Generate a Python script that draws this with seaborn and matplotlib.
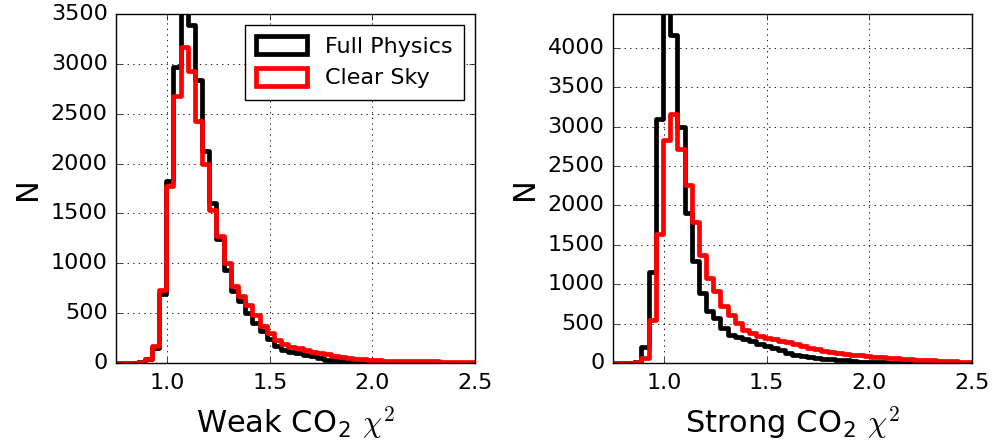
import numpy as np
import pandas as pd
import matplotlib
matplotlib.use("Agg")
import matplotlib.pyplot as plt
from matplotlib.patches import Patch
import seaborn as sns

# Histogram bins shared by both panels
bin_lo, bin_hi, n_bins = 0.75, 2.5, 50

# Weak CO2 band chi^2 counts per bin
weak_full = [2, 3, 5, 10, 40, 150, 690, 1830, 2970, 3650, 3390, 2840, 2130, 1600,
             1240, 930, 720, 620, 500, 400, 320, 240, 170, 135, 115, 100, 80, 66,
             50, 35, 28, 22, 18, 14, 12, 10, 9, 8, 7, 6, 6, 5, 5, 4, 4, 4, 3, 3, 3, 3]
weak_clear = [2, 3, 5, 10, 40, 166, 730, 1780, 2680, 3170, 2930, 2430, 2000, 1530,
              1270, 1000, 770, 670, 580, 480, 370, 300, 230, 190, 165, 150, 130, 115,
              100, 90, 75, 60, 50, 45, 38, 33, 28, 25, 22, 20, 20, 18, 17, 16, 16, 15,
              14, 14, 13, 12]

# Strong CO2 band chi^2 counts per bin
strong_full = [2, 3, 5, 10, 200, 1160, 3100, 4700, 4160, 2990, 1900, 1290, 890, 656,
               572, 446, 361, 330, 310, 276, 240, 210, 190, 160, 130, 105, 88, 76, 66,
               57, 50, 44, 35, 25, 16, 10, 8, 7, 6, 6, 5, 5, 5, 4, 4, 4, 4, 3, 3, 3]
strong_clear = [2, 3, 5, 10, 60, 550, 1640, 2830, 3160, 2720, 2260, 1790, 1375, 1080,
                910, 720, 615, 510, 425, 380, 340, 320, 300, 285, 270, 240, 215, 190,
                172, 155, 140, 128, 118, 108, 97, 86, 78, 72, 66, 60, 54, 49, 44, 38,
                33, 29, 26, 23, 19, 16]

labels = ["Full Physics", "Clear Sky"]
colors = ["black", "red"]

panels = [
    ("Weak CO$_\\mathregular{2}$ $\\chi^2$", weak_full, weak_clear, 3500, np.arange(0, 3501, 500)),
    ("Strong CO$_\\mathregular{2}$ $\\chi^2$", strong_full, strong_clear, 4430, np.arange(0, 4001, 500)),
]

plt.style.use("classic")
plt.rcParams.update({
    "figure.facecolor": "white",
    "savefig.facecolor": "white",
    "font.family": ["DejaVu Sans"],
    "mathtext.fontset": "cm",
    "font.size": 16,
    "xtick.labelsize": 16,
    "ytick.labelsize": 16,
    "xtick.major.pad": 7,
    "ytick.major.pad": 6,
    "axes.linewidth": 1.0,
})

edges = np.linspace(bin_lo, bin_hi, n_bins + 1)
centers = 0.5 * (edges[:-1] + edges[1:])

fig = plt.figure(figsize=(9.93, 4.42), dpi=100)
positions = [[0.1168, 0.1787, 0.3615, 0.7896], [0.6170, 0.1787, 0.3618, 0.7896]]

for pos, (xlabel, full, clear, ytop, yticks) in zip(positions, panels):
    ax = fig.add_axes(pos)
    for counts, color in zip([full, clear], colors):
        df = pd.DataFrame({"chi2": centers, "n": np.asarray(counts, float)})
        sns.histplot(data=df, x="chi2", weights="n", bins=n_bins,
                     binrange=(bin_lo, bin_hi), element="step", fill=False,
                     color=color, linewidth=3.4, ax=ax)
    ax.set_xlim(bin_lo, bin_hi)
    ax.set_ylim(0, ytop)
    ax.set_xticks([1.0, 1.5, 2.0, 2.5])
    ax.set_xticklabels(["1.0", "1.5", "2.0", "2.5"])
    ax.set_yticks(yticks)
    ax.grid(True, linestyle=":", color="black", linewidth=0.6)
    ax.set_axisbelow(True)
    ax.set_xlabel(xlabel, fontsize=22, labelpad=8)
    ax.set_ylabel("N", fontsize=22, labelpad=6)
    ax.tick_params(direction="in", top=True, right=True, length=4)
    if xlabel.startswith("Weak"):
        handles = [Patch(facecolor="none", edgecolor=c, linewidth=3.4) for c in colors]
        leg = ax.legend(handles, labels, loc="upper right", fontsize=16,
                        frameon=True, fancybox=False, handlelength=2.3,
                        handleheight=0.85, borderaxespad=0.5, borderpad=0.5)
        leg.get_frame().set_edgecolor("black")
        leg.get_frame().set_linewidth(1.0)

fig.savefig("out.png", dpi=100)
